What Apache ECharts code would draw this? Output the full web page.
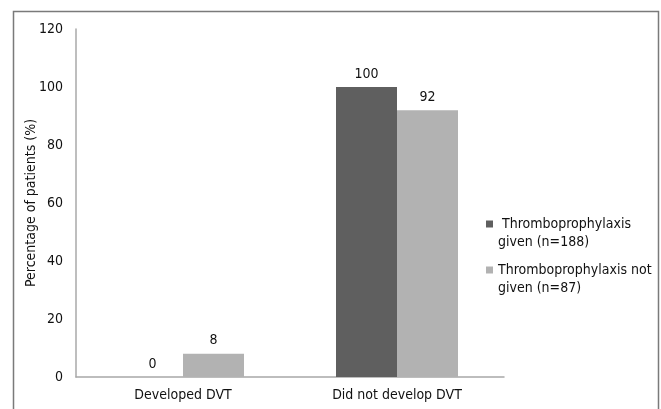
<!DOCTYPE html>
<html>
<head>
<meta charset="utf-8">
<script src="https://cdn.jsdelivr.net/npm/echarts@6/dist/echarts.min.js"></script>
<style>
html, body { margin: 0; padding: 0; background: #fff; }
#chart { width: 661px; height: 409px; }
</style>
</head>
<body>
<div id="chart"></div>
<script>
// data
var categories = ['Developed DVT', 'Did not develop DVT'];
var seriesNames = [' Thromboprophylaxis\ngiven (n=188)', 'Thromboprophylaxis not\ngiven (n=87)'];
var givenValues = [0, 100];
var notGivenValues = [8, 92];
var yTicks = { min: 0, max: 120, interval: 20 };

var font = '"DejaVu Sans Condensed", "DejaVu Sans", sans-serif';
var txt = '#111';
var myChart = echarts.init(document.getElementById('chart'));

// one legend per series; a blank first line puts the icon beside the first text line
function legendFor(name, top, left) {
    return {
        orient: 'vertical',
        left: left,
        top: top,
        padding: 0,
        itemWidth: 7,
        itemHeight: 7,
        itemGap: 4,
        icon: 'rect',
        formatter: function (n) { return '\n' + n; },
        textStyle: { fontFamily: font, fontSize: 14, color: txt, lineHeight: 18 },
        data: [name]
    };
}

var option = {
    backgroundColor: '#fff',
    animation: false,
    textStyle: { fontFamily: font },
    graphic: [{
        type: 'rect',
        shape: { x: 13.5, y: 11.5, width: 645, height: 420 },
        style: { fill: 'none', stroke: '#7a7a7a', lineWidth: 1.5 },
        silent: true
    }],
    grid: { left: 76, right: 157, top: 29, bottom: 32 },
    legend: [
        legendFor(seriesNames[0], 197, 486),
        legendFor(seriesNames[1], 243, 486)
    ],
    xAxis: {
        type: 'category',
        data: categories,
        axisLine: { lineStyle: { color: '#a8a8a8', width: 1.5 } },
        axisTick: { show: false },
        axisLabel: { fontFamily: font, fontSize: 14, color: txt, margin: 11 }
    },
    yAxis: {
        type: 'value',
        min: yTicks.min,
        max: yTicks.max,
        interval: yTicks.interval,
        name: 'Percentage of patients (%)',
        nameLocation: 'middle',
        nameRotate: 90,
        nameGap: 38,
        nameMoveOverlap: false,
        nameTextStyle: { fontFamily: font, fontSize: 14, color: txt },
        axisLine: { show: true, lineStyle: { color: '#a8a8a8', width: 1.5 } },
        axisTick: { show: false },
        splitLine: { show: false },
        axisLabel: { fontFamily: font, fontSize: 14, color: txt, margin: 13 }
    },
    series: [
        {
            name: seriesNames[0],
            type: 'bar',
            data: givenValues,
            barWidth: 61,
            barGap: '0%',
            itemStyle: { color: '#5f5f5f' },
            label: { show: true, position: 'top', distance: 6, fontFamily: font, fontSize: 14, color: txt }
        },
        {
            name: seriesNames[1],
            type: 'bar',
            data: notGivenValues,
            barWidth: 61,
            barGap: '0%',
            itemStyle: { color: '#b2b2b2' },
            label: { show: true, position: 'top', distance: 6, fontFamily: font, fontSize: 14, color: txt }
        }
    ]
};

myChart.setOption(option);
</script>
</body>
</html>
